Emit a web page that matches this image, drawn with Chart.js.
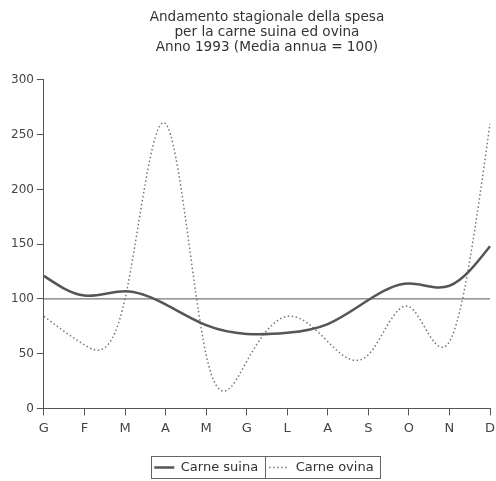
<!DOCTYPE html>
<html>
<head>
<meta charset="utf-8">
<script src="https://cdn.jsdelivr.net/npm/chart.js@4/dist/chart.umd.min.js"></script>
<style>
html,body{margin:0;padding:0;background:#fff;}
#wrap{width:496px;height:481px;}
</style>
</head>
<body>
<div id="wrap"><canvas id="c"></canvas></div>
<script>
const months = ["G","F","M","A","M","G","L","A","S","O","N","D"];
const carneSuina = [121,103,107,95,76,68,69,77,99,114,112,148];
const carneOvina = [84,58,100,260,49,43,84,61,49,93,61,260];
const mediaAnnua = [100,100,100,100,100,100,100,100,100,100,100,100];
const titleLines = ["Andamento stagionale della spesa","per la carne suina ed ovina","Anno 1993 (Media annua = 100)"];
const yTicks = [0,50,100,150,200,250,300];

const FONT = "'DejaVu Sans', sans-serif";

// Natural cubic spline through the points the library placed on its scales
const naturalSpline = {
  id: 'naturalSpline',
  beforeDatasetDraw(chart, args) {
    const meta = args.meta;
    const ds = chart.data.datasets[args.index];
    if (!ds.spline || !meta.dataset) return;
    const p = meta.data;
    const n = p.length;
    if (n < 3) return;
    const x = p.map(q => q.x), y = p.map(q => q.y);
    const h = [];
    for (let i = 0; i < n - 1; i++) h.push(x[i+1] - x[i]);
    const a = new Array(n).fill(0), b = new Array(n).fill(1), c = new Array(n).fill(0), d = new Array(n).fill(0);
    for (let i = 1; i < n - 1; i++) {
      a[i] = h[i-1]; b[i] = 2 * (h[i-1] + h[i]); c[i] = h[i];
      d[i] = 6 * ((y[i+1] - y[i]) / h[i] - (y[i] - y[i-1]) / h[i-1]);
    }
    for (let i = 1; i < n; i++) {
      const m = a[i] / b[i-1];
      b[i] -= m * c[i-1]; d[i] -= m * d[i-1];
    }
    const M = new Array(n).fill(0);
    M[n-1] = d[n-1] / b[n-1];
    for (let i = n - 2; i >= 0; i--) M[i] = (d[i] - c[i] * M[i+1]) / b[i];
    for (let i = 0; i < n - 1; i++) {
      const hi = h[i];
      const s0 = (y[i+1] - y[i]) / hi - hi * (2 * M[i] + M[i+1]) / 6;
      const s1 = (y[i+1] - y[i]) / hi + hi * (M[i] + 2 * M[i+1]) / 6;
      p[i].cp2x = x[i] + hi / 3; p[i].cp2y = y[i] + s0 * hi / 3;
      p[i+1].cp1x = x[i+1] - hi / 3; p[i+1].cp1y = y[i+1] - s1 * hi / 3;
    }
    p[0].cp1x = x[0]; p[0].cp1y = y[0];
    p[n-1].cp2x = x[n-1]; p[n-1].cp2y = y[n-1];
    meta.dataset._pointsUpdated = true;
    meta.dataset._path = undefined;
  }
};

const legendBorder = {
  id: 'legendBorder',
  afterLayout(chart) {
    const lg = chart.legend;
    if (lg) { lg.left -= 3; lg.right -= 3; }
  },
  afterDraw(chart) {
    const lg = chart.legend;
    if (!lg || !lg.legendHitBoxes || !lg.legendHitBoxes.length) return;
    const hb = lg.legendHitBoxes;
    const ctx = chart.ctx;
    const top = Math.round(hb[0].top - 5), h = Math.round(hb[0].height + 9);
    const left = Math.round(hb[0].left - 3);
    const last = hb[hb.length-1];
    const right = Math.round(last.left + last.width + 6);
    ctx.save();
    ctx.strokeStyle = "#666";
    ctx.lineWidth = 1;
    ctx.strokeRect(left + 0.5, top + 0.5, right - left, h);
    for (let i = 1; i < hb.length; i++) {
      const xx = Math.round(hb[i].left - 4) + 0.5;
      ctx.beginPath(); ctx.moveTo(xx, top); ctx.lineTo(xx, top + h); ctx.stroke();
    }
    ctx.restore();
  }
};

new Chart(document.getElementById('c'), {
  type: 'line',
  data: {
    labels: months,
    datasets: [
      { label: 'Carne suina', data: carneSuina, spline: true, borderColor: '#555', borderWidth: 2.5, tension: 0.4, pointRadius: 0, fill: false },
      { label: 'Carne ovina', data: carneOvina, spline: true, borderColor: '#777', borderWidth: 1.5, borderDash: [1.5, 2.5], tension: 0.4, pointRadius: 0, fill: false },
      { label: 'Media', data: mediaAnnua, borderColor: '#555', borderWidth: 1, tension: 0, pointRadius: 0, fill: false }
    ]
  },
  plugins: [naturalSpline, legendBorder],
  options: {
    responsive: true,
    maintainAspectRatio: false,
    animation: false,
    layout: { padding: { left: 8, right: 2, top: 10, bottom: -3 } },
    plugins: {
      title: {
        display: true, text: titleLines, fullSize: false, color: '#333',
        font: { family: FONT, size: 13.6, weight: 'normal', lineHeight: 1.1 },
        padding: { top: 0, bottom: 25 }
      },
      legend: {
        display: true, position: 'bottom', fullSize: false,
        labels: {
          filter: (item) => item.datasetIndex !== 2,
          generateLabels: (chart) => {
            const items = Chart.defaults.plugins.legend.labels.generateLabels(chart);
            items.forEach(it => {
              const ds = chart.data.datasets[it.datasetIndex];
              it.lineDash = ds.borderDash || [];
              it.lineWidth = ds.borderWidth;
              it.strokeStyle = ds.borderColor;
            });
            return items;
          },
          usePointStyle: true, pointStyle: 'line', pointStyleWidth: 20,
          color: '#333', padding: 11,
          font: { family: FONT, size: 13 }
        }
      },
      tooltip: { enabled: false }
    },
    scales: {
      x: {
        offset: false,
        afterFit: (s) => { s.height += 9; s.paddingRight = 6; },
        grid: { display: true, drawOnChartArea: false, drawTicks: true, tickLength: 7, color: '#555' },
        border: { display: true, color: '#555', width: 1 },
        ticks: { color: '#444', font: { family: FONT, size: 13 }, padding: 5, autoSkip: false, maxRotation: 0 }
      },
      y: {
        min: 0, max: 300,
        afterBuildTicks: (s) => { s.ticks = yTicks.map(v => ({ value: v })); },
        grid: { display: true, drawOnChartArea: false, drawTicks: true, tickLength: 7, color: '#555' },
        border: { display: true, color: '#555', width: 1 },
        ticks: { color: '#444', font: { family: FONT, size: 12 }, padding: 3 }
      }
    }
  }
});
</script>
</body>
</html>
